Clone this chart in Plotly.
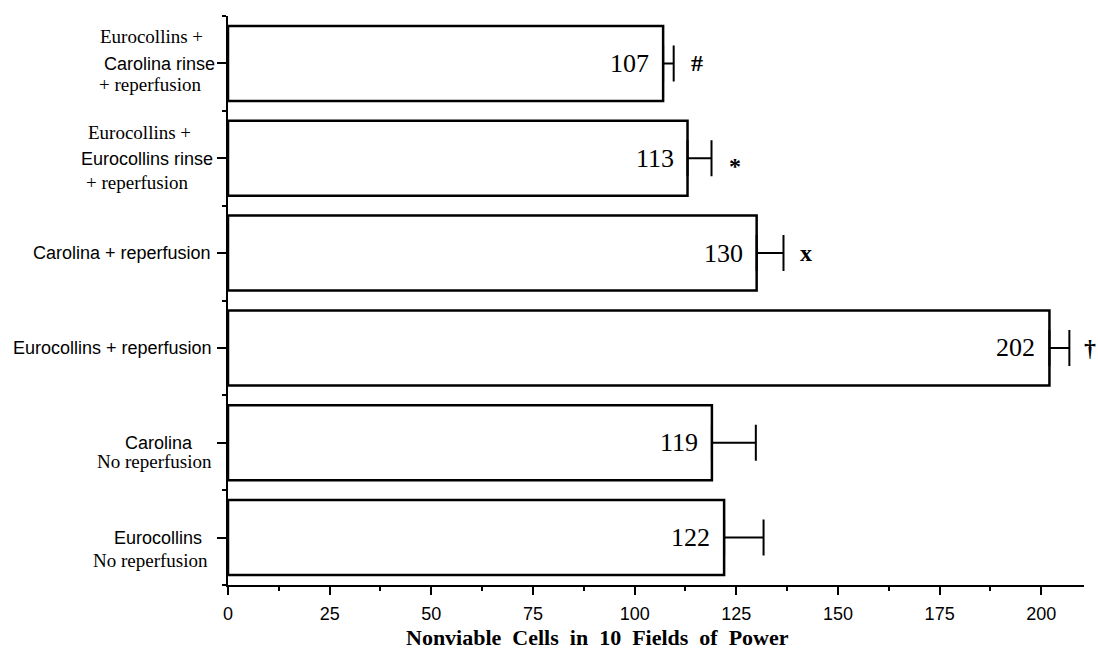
import plotly.graph_objects as go

# ---- data (bottom to top) ----
group_lines = [
    ["Eurocollins", "No reperfusion"],
    ["Carolina", "No reperfusion"],
    ["Eurocollins + reperfusion"],
    ["Carolina + reperfusion"],
    ["Eurocollins +", "Eurocollins rinse", "+ reperfusion"],
    ["Eurocollins +", "Carolina rinse", "+ reperfusion"],
]
values = [122, 119, 202, 130, 113, 107]
errors = [9.7, 10.8, 4.9, 6.6, 5.9, 2.6]
sig_marks = ["", "", "†", "x", "*", "#"]
x_ticks = [0, 25, 50, 75, 100, 125, 150, 175, 200]
x_title = "Nonviable Cells in 10 Fields of Power"

# ---- styling / layout of the label lines (font kind, y shift px, x centre px) ----
line_styles = [
    [("sans", 0, 158), ("serif", -23, 150)],
    [("sans", 0, 159), ("serif", -19, 154)],
    [("sans", 0, 112)],
    [("sans", 0, 122)],
    [("serif", 26, 139), ("sans", -1, 147), ("serif", -24, 137)],
    [("serif", 27, 151), ("sans", -1, 159), ("serif", -21, 150)],
]
mark_yshift = {"*": -8}
mark_xshift = {"†": 21}
mark_size = {"†": 24}

SANS = "Liberation Sans, Arial, Helvetica, sans-serif"
SERIF = "Liberation Serif, Times New Roman, serif"
L, R, T, B = 228, 14, 16, 76
W, H = 1098, 661

idx = list(range(len(values)))

fig = go.Figure()
fig.add_trace(go.Bar(
    x=values, y=idx, orientation="h", width=0.79,
    marker=dict(color="white", line=dict(color="black", width=2.5)),
    error_x=dict(type="data", array=errors, arrayminus=[0] * len(errors),
                 symmetric=False, color="black", thickness=2, width=18),
    hoverinfo="skip", showlegend=False,
))

ann = []
for i, (lines, styles) in enumerate(zip(group_lines, line_styles)):
    for text, (kind, ys, xc) in zip(lines, styles):
        ann.append(dict(
            x=0, xref="paper", xshift=xc - L, xanchor="center",
            y=i, yref="y", yshift=ys, yanchor="middle",
            text=text, showarrow=False,
            font=dict(family=SANS if kind == "sans" else SERIF,
                      size=18 if kind == "sans" else 19, color="black"),
        ))
    # value inside bar
    ann.append(dict(
        x=values[i], xref="x", xanchor="right", xshift=-12,
        y=i, yref="y", yanchor="middle",
        text=str(values[i]), showarrow=False,
        font=dict(family=SERIF, size=26, color="black"),
    ))
    if sig_marks[i]:
        m = sig_marks[i]
        ann.append(dict(
            x=values[i] + errors[i], xref="x", xanchor="center",
            xshift=mark_xshift.get(m, 23),
            y=i, yref="y", yanchor="middle", yshift=mark_yshift.get(m, 0),
            text=m, showarrow=False, borderpad=0,
            font=dict(family=SERIF, size=mark_size.get(m, 24),
                      color="black", weight="bold"),
        ))

ann.append(dict(
    x=0, xref="paper", xshift=597 - L, xanchor="center",
    y=0, yref="paper", yshift=-52, yanchor="middle",
    text="\u00a0\u00a0".join(x_title.split(" ")), showarrow=False,
    font=dict(family=SERIF, size=22, color="black", weight="bold"),
))

fig.update_layout(
    width=W, height=H,
    margin=dict(l=L, r=R, t=T, b=B),
    paper_bgcolor="white", plot_bgcolor="white",
    annotations=ann,
    xaxis=dict(
        range=[0, 210.5], tickvals=x_ticks, ticks="outside", ticklen=8, tickwidth=2,
        tickcolor="black", showline=True, linecolor="black", linewidth=2,
        showgrid=False, zeroline=False, ticklabelstandoff=3,
        tickfont=dict(family=SANS, size=18, color="black"),
        minor=dict(tick0=12.5, dtick=25, ticks="outside", ticklen=4, tickwidth=2,
                   tickcolor="black", showgrid=False),
    ),
    yaxis=dict(
        range=[-0.5, 5.5], tickvals=idx, showticklabels=False,
        ticks="outside", ticklen=9, tickwidth=2, tickcolor="black",
        showline=True, linecolor="black", linewidth=2,
        showgrid=False, zeroline=False,
        minor=dict(tick0=0.5, dtick=1, ticks="outside", ticklen=4, tickwidth=2,
                   tickcolor="black", showgrid=False),
    ),
)

fig.write_html(
    "out.html",
    config={"displayModeBar": False, "staticPlot": True},
    post_script="document.body.style.margin='0';document.body.style.overflow='hidden';",
)
